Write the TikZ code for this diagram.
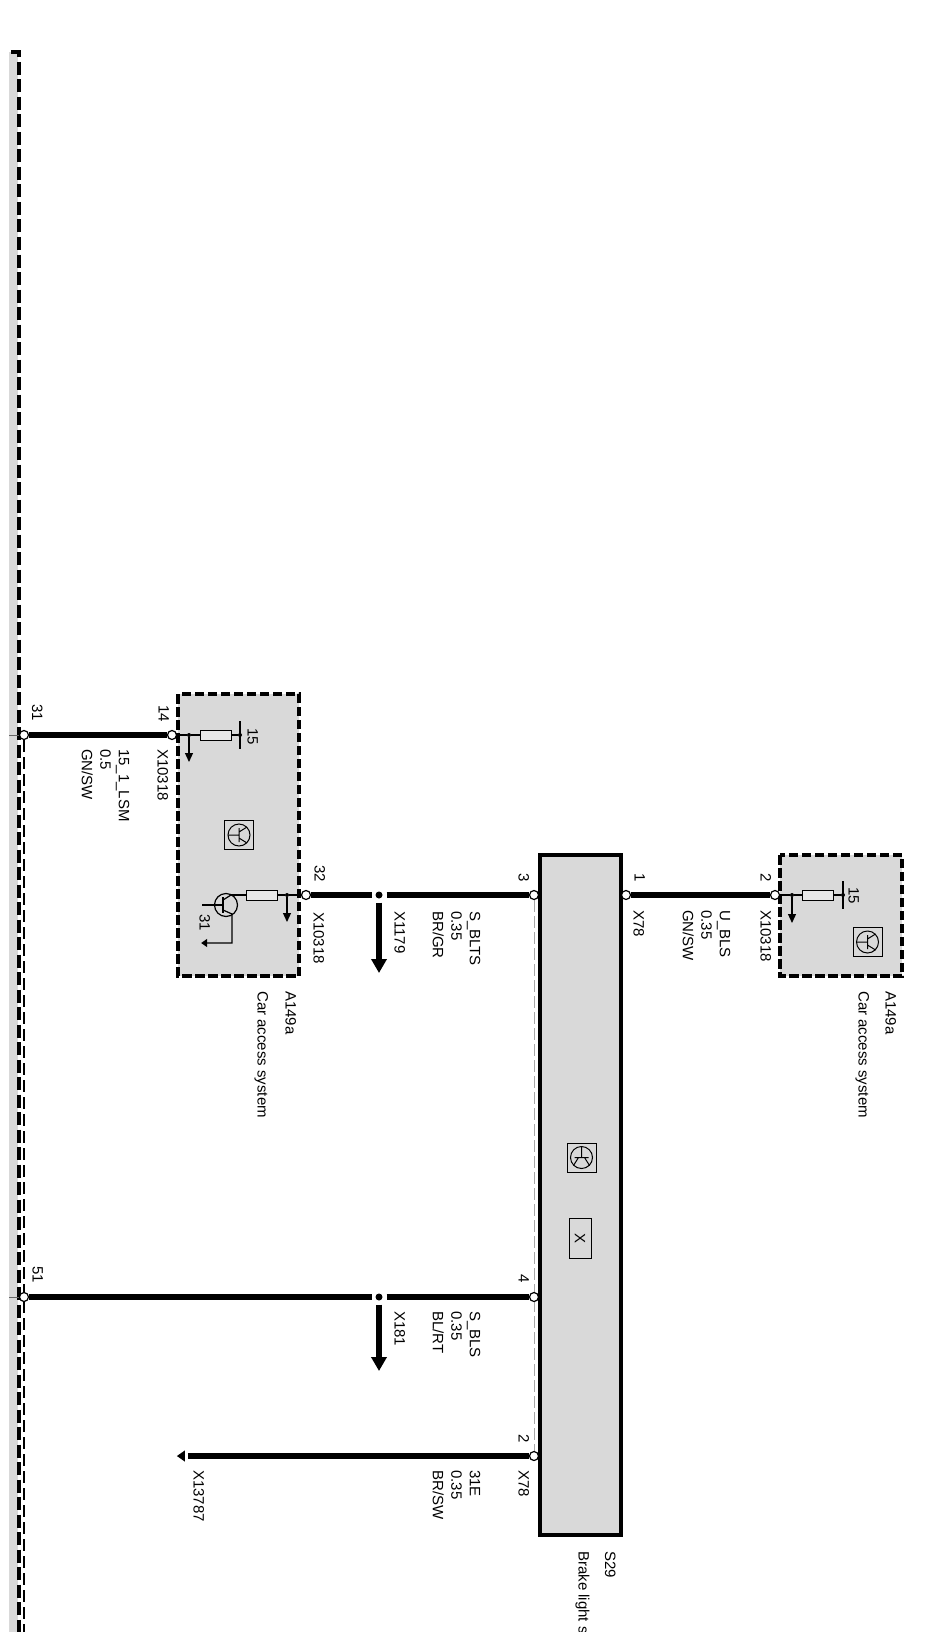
\documentclass[tikz,border=0pt]{standalone}
\usepackage{fontspec}
\setmainfont{Liberation Sans}
\usetikzlibrary{arrows.meta,shapes.geometric}
\definecolor{boxgray}{HTML}{D9D9D9}
\tikzset{
  lbl/.style={rotate=-90, anchor=base west, inner sep=0pt, font=\fontsize{15}{18}\selectfont},
  wirelbl/.style={rotate=-90, anchor=north west, inner sep=0pt, align=left, font=\fontsize{15}{18.5}\selectfont},
  wire/.style={line width=6.5pt},
  thinw/.style={line width=1.2pt},
  pinc/.style={circle, draw=black, fill=white, line width=1.2pt, minimum size=9pt, inner sep=0pt},
  jdot/.style={circle, fill=black, minimum size=7pt, inner sep=0pt, outer sep=4pt},
  sdot/.style={circle, fill=black, minimum size=4pt, inner sep=0pt},
  resbox/.style={rectangle, draw=black, fill=boxgray!60, line width=1pt, minimum width=31pt, minimum height=10pt, inner sep=0pt},
  dashbox/.style={draw=black, fill=boxgray, line width=4pt, dash pattern=on 9.5pt off 3.5pt},
  gndtri/.style={isosceles triangle, isosceles triangle apex angle=70, shape border rotate=180, fill=black, inner sep=0pt, minimum size=8pt, outer sep=3pt},
  tsym/.pic={
    \draw[line width=1pt] (-14.5,-14.5) rectangle (14.5,14.5);
    \draw[line width=1pt] (0,0) circle (11);
    \draw[line width=1pt] (-11,0) -- (0,0) (0,-7) -- (0,7) (0,-3) -- (8,-8) (0,3) -- (8,8);
  }
}
\begin{document}
\begin{tikzpicture}[x=1pt,y=-1pt]
\useasboundingbox (0,0) rectangle (924,1645);

% Left module edge
\fill[boxgray] (9,52) rectangle (18,1632);
\draw[line width=4pt, dash pattern=on 13pt off 4.5pt] (11,52) -- (18.5,52) -- (18.5,1632);
\draw[line width=1.3pt, dash pattern=on 12pt off 5pt] (24,740) -- (24,1632);
\draw[line width=1pt, black!60] (9,735) -- (24,735);
\draw[line width=1pt, black!60] (9,1297) -- (24,1297);

% Boxes
\path[dashbox] (178,694) rectangle (299,976);
\path[dashbox] (780,855) rectangle (902,976);
\draw[gray!70, line width=1.6pt, dash pattern=on 12pt off 4pt] (534.5,900) -- (534.5,1451);
\draw[line width=4pt, fill=boxgray] (540,855) rectangle (621,1535);

% Pins
\node[pinc] (p31) at (24,735) {};
\node[pinc] (p14) at (172,735) {};
\node[pinc] (p32) at (306,895) {};
\node[pinc] (p3) at (534,895) {};
\node[pinc] (p1) at (626,895) {};
\node[pinc] (p2) at (775,895) {};
\node[pinc] (p51) at (24,1297) {};
\node[pinc] (p4) at (534,1297) {};
\node[pinc] (p78) at (534,1456) {};

% Wires
\node[jdot] (j1179) at (379,895) {};
\node[jdot] (j181) at (379,1297) {};
\coordinate (a1179) at (379,973);
\coordinate (a181) at (379,1371);
\node[gndtri] (g13787) at (182,1456) {};
\draw[wire] (p31) -- (p14);
\draw[wire] (p32) -- (j1179) -- (p3);
\draw[wire] (p1) -- (p2);
\draw[wire] (p51) -- (j181) -- (p4);
\draw[wire] (g13787) -- (p78);
\draw[wire, -{Triangle[width=15pt,length=14pt]}] (j1179) -- (a1179);
\draw[wire, -{Triangle[width=15pt,length=14pt]}] (j181) -- (a181);

% Left box, pin 14 side
\node[sdot] (d14) at (189,735) {};
\node[resbox] (r14) at (215.5,735) {};
\node[sdot] (b14) at (240,735) {};
\coordinate (a14) at (189,762);
\draw[thinw] (p14) -- (d14) -- (r14) -- (b14);
\draw[thinw] (b14.center) ++(0,-14) -- ++(0,28);
\draw[thinw, -{Triangle[width=8pt,length=9pt]}] (d14) -- (a14);
\pic at (239,835) {tsym};

% Left box, pin 32 side
\node[sdot] (d32) at (287,895) {};
\node[resbox] (r32) at (261.5,895) {};
\coordinate (a32) at (287,922);
\coordinate (c32) at (231,895);
\draw[thinw] (p32) -- (d32) -- (r32) -- (c32);
\draw[thinw, -{Triangle[width=8pt,length=9pt]}] (d32) -- (a32);
\node[circle, draw=black, line width=1.2pt, minimum size=23pt, inner sep=0pt] (t32) at (226,905) {};
\node[gndtri, minimum size=6pt, outer sep=0pt] (g32) at (205,943) {};
\draw[thinw] (t32.center) ++(-3,0) -- (202,905);
\draw[thinw] (223,897) -- (223,913);
\draw[thinw] (223,900) -- (c32);
\draw[thinw] (223,910) -- (232,914) -- (232,943) -- (g32);

% Right box
\node[sdot] (d2) at (792,895) {};
\node[resbox] (r2) at (817.5,895) {};
\node[sdot] (b2) at (843,895) {};
\coordinate (a2) at (792,923);
\draw[thinw] (p2) -- (d2) -- (r2) -- (b2);
\draw[thinw] (b2.center) ++(0,-14) -- ++(0,28);
\draw[thinw, -{Triangle[width=8pt,length=9pt]}] (d2) -- (a2);
\pic at (867.5,942) {tsym};

% Brake light switch symbols
\pic[rotate=-90] at (581.5,1157.5) {tsym};
\node[draw=black, line width=1pt, fill=boxgray, rotate=-90, minimum width=40pt, minimum height=22pt, inner sep=0pt, font=\fontsize{15}{18}\selectfont] (xbox) at (580,1238) {X};

% Pin and connector labels
\node[lbl] (t31) at (32,704) {31};
\node[lbl] (t14) at (158.5,705) {14};
\node[lbl] (tx14) at (157.5,749) {X10318};
\node[lbl] (t15a) at (247.5,728) {15};
\node[lbl] (t32a) at (314.5,865) {32};
\node[lbl] (tx32) at (313.5,912) {X10318};
\node[lbl] (t31b) at (199.5,914) {31};
\node[lbl] (ta1) at (285.5,991) {A149a};
\node[lbl] (tc1) at (257.5,991) {Car access system};
\node[lbl] (t3) at (518.5,873) {3};
\node[lbl] (t1) at (634.5,873) {1};
\node[lbl] (t2) at (760.5,873) {2};
\node[lbl] (tx78) at (633.5,910) {X78};
\node[lbl] (tx2) at (760.5,910) {X10318};
\node[lbl] (t15b) at (848.5,887) {15};
\node[lbl] (ta2) at (885.5,991) {A149a};
\node[lbl] (tc2) at (858.5,991) {Car access system};
\node[lbl] (tx1179) at (394.5,911) {X1179};
\node[lbl] (t51) at (32.5,1266) {51};
\node[lbl] (t4) at (518.5,1274) {4};
\node[lbl] (tx181) at (394.5,1311) {X181};
\node[lbl] (t2b) at (518.5,1434) {2};
\node[lbl] (tx78b) at (518.5,1470) {X78};
\node[lbl] (tx13787) at (193.5,1470) {X13787};
\node[lbl] (ts29) at (605,1551) {S29};

% Wire labels
\node[wirelbl] (w14) at (129.5,749) {15\_1\_LSM\\0.5\\GN/SW};
\node[wirelbl] (w32) at (480.5,911) {S\_BLTS\\0.35\\BR/GR};
\node[wirelbl] (w1) at (730.5,910) {U\_BLS\\0.35\\GN/SW};
\node[wirelbl] (w4) at (480.5,1311) {S\_BLS\\0.35\\BL/RT};
\node[wirelbl] (w78) at (480.5,1470) {31E\\0.35\\BR/SW};

% Name of the switch runs off the sheet
\begin{scope}
\clip (560,1540) rectangle (620,1631);
\node[lbl] (tbrake) at (578.5,1551) {Brake light s};
\end{scope}
\end{tikzpicture}
\end{document}
